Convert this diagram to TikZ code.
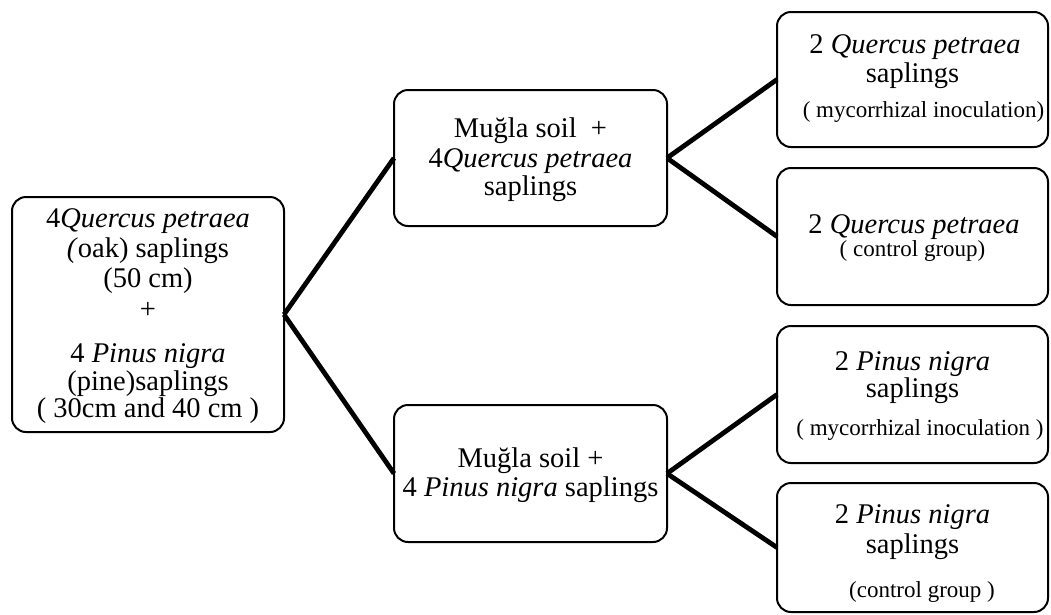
\documentclass[tikz,border=0pt]{standalone}
\usepackage{fontspec}
\setmainfont{Liberation Serif}
\begin{document}
\begin{tikzpicture}[x=1pt,y=-1pt,
  box/.style={draw, line width=2pt, rounded corners=14pt, inner sep=0pt, outer sep=0pt},
  big/.style={font=\fontsize{28.5}{30}\selectfont, inner sep=0pt, anchor=base},
  small/.style={font=\fontsize{23}{25}\selectfont, inner sep=0pt, anchor=base},
  link/.style={line width=4.8pt},
  linkshadow/.style={line width=4.8pt, black!25, shift={(1.2pt,-1.2pt)}}]
\useasboundingbox (0,0) rectangle (1051,614);
% boxes
\node[box, minimum width=272pt, minimum height=235pt] (L)  at (148,314.5) {};
\node[box, minimum width=273pt, minimum height=136pt] (MT) at (530.5,158) {};
\node[box, minimum width=273pt, minimum height=137pt] (MB) at (530.5,473.5) {};
\node[box, minimum width=271pt, minimum height=135pt] (R1) at (912.5,79.5) {};
\node[box, minimum width=271pt, minimum height=137pt] (R2) at (912.5,236.5) {};
\node[box, minimum width=271pt, minimum height=137pt] (R3) at (912.5,394.5) {};
\node[box, minimum width=271pt, minimum height=129pt] (R4) at (912.5,547.5) {};
% connectors
\draw[link] (L.east) -- (MT.west);
\draw[link] (L.east) -- (MB.west);
\draw[link] (MT.east) -- (R1.west);
\draw[link] (MT.east) -- (R2.west);
\draw[link] (MB.east) -- (R3.west);
\draw[link] (MB.east) -- (R4.west);
% left box text
\node[big] (l1) at (148,227) {4\textit{Quercus petraea}};
\node[big] (l2) at (148,257) {\textit{(}oak) saplings};
\node[big] (l3) at (148,287) {(50 cm)};
\node[big] (l4) at (148,318) {+};
\node[big] (l5) at (148,362) {4 \textit{Pinus nigra}};
\node[big] (l6) at (148,390) {(pine)saplings};
\node[big] (l7) at (148,417) {( 30cm and 40 cm )};
% middle top
\node[big] (mt1) at (530.5,137) {Muğla soil~~+};
\node[big] (mt2) at (530.5,167) {4\textit{Quercus petraea}};
\node[big] (mt3) at (530.5,195) {saplings};
% middle bottom
\node[big] (mb1) at (530.5,467) {Muğla soil +};
\node[big] (mb2) at (530.5,496) {4 \textit{Pinus nigra} saplings};
% right 1
\node[big] (r11) at (915,53) {2 \textit{Quercus petraea}};
\node[big] (r12) at (912.5,82) {saplings};
\node[small] (r13) at (923.5,117) {( mycorrhizal inoculation)};
% right 2
\node[big] (r21) at (914,233) {2 \textit{Quercus petraea}};
\node[small] (r22) at (912.5,256) {( control group)};
% right 3
\node[big] (r31) at (912.5,370) {2 \textit{Pinus nigra}};
\node[big] (r32) at (912.5,397) {saplings};
\node[small] (r33) at (920,435) {( mycorrhizal inoculation )};
% right 4
\node[big] (r41) at (912.5,523) {2 \textit{Pinus nigra}};
\node[big] (r42) at (912.5,553) {saplings};
\node[small] (r43) at (922,597) {(control group )};
\end{tikzpicture}
\end{document}
